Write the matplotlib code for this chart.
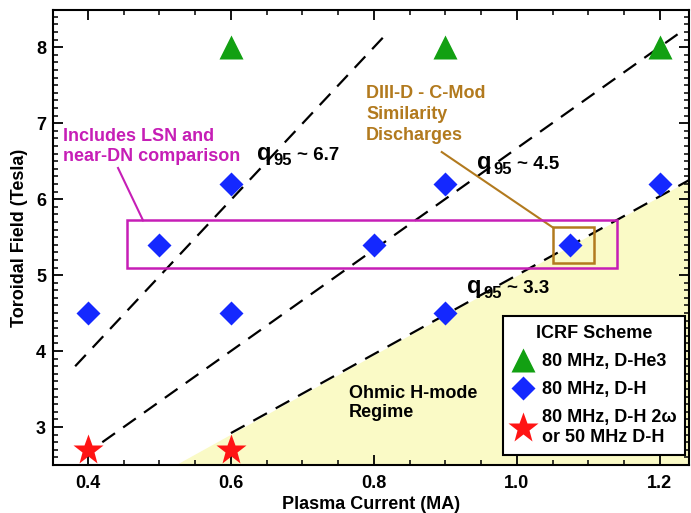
import matplotlib.pyplot as plt
from matplotlib.lines import Line2D
from matplotlib.patches import Rectangle
from matplotlib.ticker import MultipleLocator

plt.rcParams['font.family'] = ['Liberation Sans', 'DejaVu Sans']
plt.rcParams['font.weight'] = 'bold'

# ICRF scheme points (plasma current MA, toroidal field T)
he3_I = [0.6, 0.9, 1.2]
he3_B = [8.0, 8.0, 8.0]
dh_I = [0.4, 0.5, 0.6, 0.6, 0.8, 0.9, 0.9, 1.075, 1.2]
dh_B = [4.5, 5.4, 6.2, 4.5, 5.4, 6.2, 4.5, 5.4, 6.2]
dh2_I = [0.4, 0.6]
dh2_B = [2.7, 2.7]

# constant q95 lines
q67_I = [0.382, 0.818]
q67_B = [3.8, 8.18]
q45_I = [0.42, 1.225]
q45_B = [2.8, 8.17]
q33_I = [0.6, 1.241]
q33_B = [2.92, 6.25]

# ohmic H-mode regime boundary
ohm_I = [0.522, 1.241]
ohm_B = [2.5, 6.25]

yellow = '#FAFAC6'
magenta = '#C61EB6'
brown = '#B27A1E'

fig = plt.figure(figsize=(6.91, 5.13), dpi=100)
ax = fig.add_axes([53 / 691, 1 - 465 / 513, 636 / 691, 455 / 513])

ax.fill_between(ohm_I, ohm_B, 2.5, color=yellow, lw=0, zorder=0)

for xs, ys in [(q67_I, q67_B), (q45_I, q45_B), (q33_I, q33_B)]:
    ax.plot(xs, ys, color='black', lw=1.6, linestyle=(0, (7, 4.5)), zorder=2)

# boxes
ax.add_patch(Rectangle((0.455, 5.09), 1.14 - 0.455, 5.72 - 5.09, fill=False,
                       ec=magenta, lw=1.8, zorder=3))
ax.add_patch(Rectangle((1.05, 5.16), 1.108 - 1.05, 5.63 - 5.16, fill=False,
                       ec=brown, lw=1.8, zorder=3))

ax.plot(he3_I, he3_B, '^', color='#12A012', ms=17, mec='none', ls='none', zorder=4)
ax.plot(dh_I, dh_B, 'D', color='#1428FF', ms=12, mec='none', ls='none', zorder=4)
ax.plot(dh2_I, dh2_B, '*', color='#FF1414', ms=23, mec='none', ls='none', zorder=4)

# annotations
ax.text(0.365, 6.93, 'Includes LSN and\nnear-DN comparison', color=magenta,
        fontsize=13, fontweight='bold', ha='left', va='top', linespacing=1.2)
ax.plot([0.442, 0.477], [6.41, 5.72], color=magenta, lw=1.5)

ax.text(0.789, 7.5, 'DIII-D - C-Mod\nSimilarity\nDischarges', color=brown,
        fontsize=13, fontweight='bold', ha='left', va='top', linespacing=1.3)
ax.plot([0.895, 1.05], [6.62, 5.63], color=brown, lw=1.5)


def q_label(x, y, val):
    ax.annotate('q', (x, y), fontsize=17, fontweight='bold', va='baseline')
    ax.annotate('95', (x, y), xytext=(11.5, -3.6), textcoords='offset points',
                fontsize=12, fontweight='bold', va='baseline')
    ax.annotate('~ ' + val, (x, y), xytext=(28.5, 0), textcoords='offset points',
                fontsize=13.5, fontweight='bold', va='baseline')


q_label(0.637, 6.52, '6.7')
q_label(0.945, 6.40, '4.5')
q_label(0.931, 4.76, '3.3')

ax.text(0.765, 3.55, 'Ohmic H-mode\nRegime', fontsize=13, fontweight='bold',
        ha='left', va='top', linespacing=1.1)

handles = [
    Line2D([], [], marker='^', color='#12A012', ms=17, mec='none', ls='none'),
    Line2D([], [], marker='D', color='#1428FF', ms=12, mec='none', ls='none'),
    Line2D([], [], marker='*', color='#FF1414', ms=23, mec='none', ls='none'),
]
labels = ['80 MHz, D-He3', '80 MHz, D-H', '80 MHz, D-H 2ω\nor 50 MHz D-H']
leg = ax.legend(handles, labels, title='ICRF Scheme', loc='lower right',
                bbox_to_anchor=(0.994, 0.022), fontsize=13, title_fontsize=13,
                frameon=True, fancybox=False, framealpha=1, edgecolor='black',
                borderpad=0.5, handlelength=1.3, handletextpad=0.35,
                labelspacing=0.62, borderaxespad=0)
leg.get_frame().set_linewidth(1.5)
leg.get_title().set_fontweight('bold')

ax.set_xlim(0.351, 1.241)
ax.set_ylim(2.5, 8.49)
ax.set_xticks([0.4, 0.6, 0.8, 1.0, 1.2])
ax.set_xticklabels(['0.4', '0.6', '0.8', '1.0', '1.2'])
ax.set_yticks([3, 4, 5, 6, 7, 8])
ax.xaxis.set_minor_locator(MultipleLocator(0.05))
ax.yaxis.set_minor_locator(MultipleLocator(0.1))
ax.tick_params(which='both', direction='in', top=True, right=True, labelsize=13)
ax.tick_params(which='major', length=7, width=1.3)
ax.tick_params(which='minor', length=3.5, width=1.1)
ax.tick_params(axis='x', which='major', pad=7)
ax.tick_params(axis='y', which='major', pad=5)
for sp in ax.spines.values():
    sp.set_linewidth(1.5)

ax.set_xlabel('Plasma Current (MA)', fontsize=13, fontweight='bold', labelpad=3)
ax.set_ylabel('Toroidal Field (Tesla)', fontsize=13, fontweight='bold', labelpad=6)

fig.savefig('out.png', dpi=100)
